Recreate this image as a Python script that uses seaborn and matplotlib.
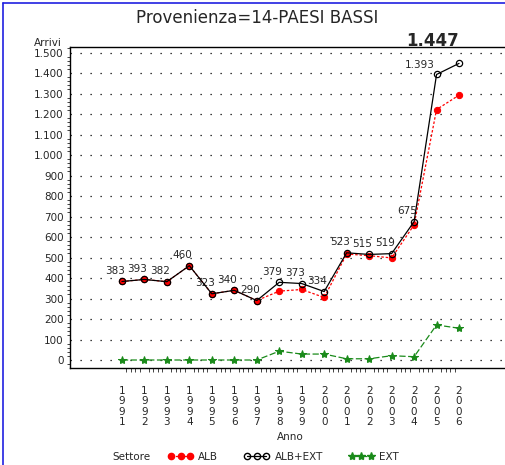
import numpy as np
import pandas as pd
import matplotlib
matplotlib.use("Agg")
import matplotlib.pyplot as plt
import matplotlib.ticker as mticker
from matplotlib.lines import Line2D
import seaborn as sns

# Data
anni = list(range(1991, 2007))
alb = [383, 393, 382, 460, 323, 340, 290, 336, 344, 305, 517, 509, 498, 659, 1222, 1292]
alb_ext = [383, 393, 382, 460, 323, 340, 290, 379, 373, 334, 523, 515, 519, 675, 1393, 1447]
ext = [0, 0, 0, 0, 0, 0, 0, 43, 29, 29, 6, 6, 21, 16, 171, 155]

df = pd.DataFrame({'Anno': anni, 'ALB': alb, 'ALB+EXT': alb_ext, 'EXT': ext})

sns.set_style("white")
plt.rcParams['font.family'] = ['DejaVu Sans']

fig = plt.figure(figsize=(5.06, 4.65), dpi=100)
ax = fig.add_axes([70 / 506, 1 - 368 / 465, 436 / 506, (368 - 47) / 465])

# dotted horizontal grid
for v in range(0, 1600, 100):
    ax.axhline(v, color='black', lw=0.9, ls=(0, (1, 7)), zorder=0)

sns.lineplot(data=df, x='Anno', y='EXT', ax=ax, color='#1a8a1a', lw=0.9,
             marker='*', markersize=6, markeredgecolor='#1a8a1a', zorder=2)
ax.lines[-1].set_dashes([5, 2])
sns.lineplot(data=df, x='Anno', y='ALB', ax=ax, color='red', lw=0.9,
             marker='o', markersize=4.5, markeredgecolor='red', zorder=3)
ax.lines[-1].set_dashes([2, 1.5])
sns.lineplot(data=df, x='Anno', y='ALB+EXT', ax=ax, color='black', lw=0.9,
             marker='o', markersize=4.5, markerfacecolor='none',
             markeredgecolor='black', markeredgewidth=0.9, zorder=4)

def fmt_it(v):
    return f"{int(v):,}".replace(',', '.')

for i, (a, v) in enumerate(zip(anni, alb_ext)):
    if i == len(anni) - 1:
        ax.annotate(fmt_it(v), (a, v), xytext=(-19, 16), textcoords='offset points',
                    ha='center', va='center', fontsize=12, fontweight='bold',
                    annotation_clip=False)
    elif i == len(anni) - 2:
        ax.annotate(fmt_it(v), (a, v), xytext=(-12, 6.5), textcoords='offset points',
                    ha='center', va='center', fontsize=7.5)
    else:
        ax.annotate(fmt_it(v), (a, v), xytext=(-5, 7.5), textcoords='offset points',
                    ha='center', va='center', fontsize=7.5)

ax.set_xlim(1988.69, 2008.09)
ax.set_ylim(-39, 1527)
ax.set_xticks(anni)
ax.set_xticklabels(['\n'.join(str(a)) for a in anni], fontsize=7.5, linespacing=1.05)
ax.xaxis.set_minor_locator(mticker.FixedLocator(np.arange(1991, 2006.01, 0.2)))
ax.set_yticks(range(0, 1600, 100))
ax.yaxis.set_major_formatter(mticker.FuncFormatter(lambda v, p: fmt_it(v)))
ax.yaxis.set_minor_locator(mticker.MultipleLocator(20))
ax.tick_params(axis='y', which='major', direction='inout', length=7, width=0.8, labelsize=7.5, pad=1)
ax.tick_params(axis='y', which='minor', direction='out', length=2, width=0.6, left=True)
ax.tick_params(axis='x', which='major', direction='out', length=5, width=0.8, pad=8)
ax.tick_params(axis='x', which='minor', direction='out', length=3, width=0.6, bottom=True)

ax.set_xlabel('')
ax.set_ylabel('')
for s in ['left', 'bottom', 'top']:
    ax.spines[s].set_color('black')
    ax.spines[s].set_linewidth(1.0)
ax.spines['right'].set_visible(False)

fig.text(257 / 506, 1 - 18 / 465, 'Provenienza=14-PAESI BASSI', ha='center', va='center', fontsize=12)
fig.text(48 / 506, 1 - 43 / 465, 'Arrivi', ha='center', va='center', fontsize=7.5)
fig.text(290 / 506, 1 - 437 / 465, 'Anno', ha='center', va='center', fontsize=7.5)
fig.text(112 / 506, 1 - 457 / 465, 'Settore', ha='left', va='center', fontsize=7.5)

handles = [
    Line2D([], [], color='red', lw=0.9, ls=(0, (2, 1.5)), marker='o', markersize=4.5),
    Line2D([], [], color='black', lw=0.9, marker='o', markersize=4.5, markerfacecolor='none'),
    Line2D([], [], color='#1a8a1a', lw=0.9, ls=(0, (5, 2)), marker='*', markersize=6),
]
fig.legend(handles, ['ALB', 'ALB+EXT', 'EXT'], loc='center left',
           bbox_to_anchor=(168 / 506, 1 - 457 / 465), ncol=3, frameon=False,
           fontsize=7.5, numpoints=3, handlelength=2.4, handletextpad=0.5,
           columnspacing=2.5, borderpad=0, borderaxespad=0)

# blue page frame
fig.add_artist(Line2D([3 / 506, 3 / 506], [0, 1 - 3 / 465], color='#2020e0', lw=1.2))
fig.add_artist(Line2D([3 / 506, 1], [1 - 3 / 465, 1 - 3 / 465], color='#2020e0', lw=1.2))

fig.savefig('out.png', dpi=100)
